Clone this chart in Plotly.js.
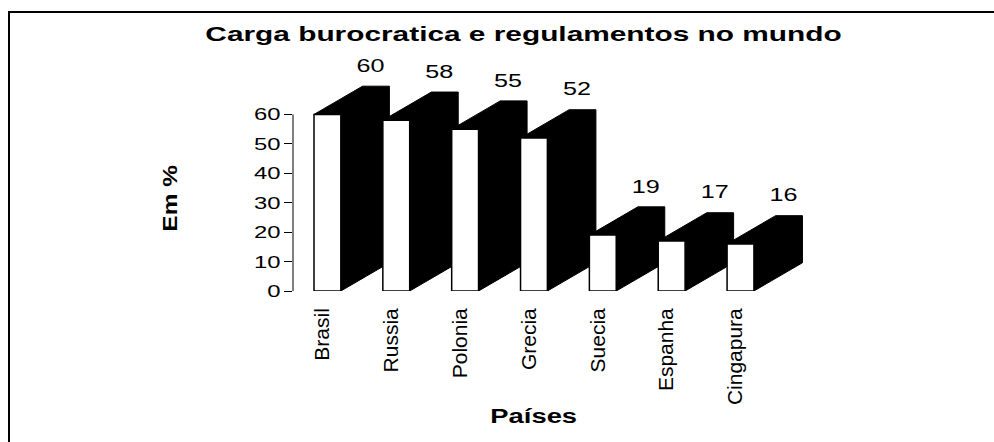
<!DOCTYPE html>
<html>
<head>
<meta charset="utf-8">
<script src="https://cdn.plot.ly/plotly-3.0.1.min.js"></script>
<style>
  html, body { margin: 0; padding: 0; background: #fff; overflow: hidden; }
  #chart { width: 994px; height: 442px; }
  #frame { position: absolute; left: 8px; top: 11px; width: 1200px; height: 800px;
           border: 2px solid #000; pointer-events: none; z-index: 10; }
</style>
</head>
<body>
<div id="frame"></div>
<div id="chart"></div>
<script>
// ---- data ----
const categories = ['Brasil', 'Russia', 'Polonia', 'Grecia', 'Suecia', 'Espanha', 'Cingapura'];
const values = [60, 58, 55, 52, 19, 17, 16];
const yTickValues = [0, 10, 20, 30, 40, 50, 60];
const titleText = 'Carga burocratica e regulamentos no mundo';
const yTitleText = 'Em %';
const xTitleText = 'Países';

// ---- style constants (3D look) ----
const BAR_W = 0.39;     // front face width, category units
const DEPTH_X = 0.705;  // depth offset, category units
const DEPTH_Y = 9.6;    // depth offset, value units
const LABEL_SHIFT = -0.08;
const FONT = '"Liberation Sans", Arial, sans-serif';

const idx = categories.map((c, i) => i);

// black side + top faces (one polygon per bar, separated by gaps)
const blackX = [], blackY = [];
const frontX = [], frontY = [];
idx.forEach(i => {
  const v = values[i];
  const x0 = i - BAR_W / 2, x1 = i + BAR_W / 2;
  blackX.push(x0, x0 + DEPTH_X, x1 + DEPTH_X, x1 + DEPTH_X, x1, x1, x0, null);
  blackY.push(v, v + DEPTH_Y, v + DEPTH_Y, DEPTH_Y, 0, v, v, null);
  frontX.push(x0, x1, x1, x0, x0, null);
  frontY.push(0, 0, v, v, 0, null);
});

const traces = [
  { type: 'scatter', mode: 'lines', x: blackX, y: blackY, fill: 'toself',
    fillcolor: '#000', line: { color: '#000', width: 1 }, hoverinfo: 'skip', showlegend: false },
  { type: 'scatter', mode: 'lines', x: frontX, y: frontY, fill: 'toself',
    fillcolor: '#fff', line: { color: '#000', width: 1.5 }, hoverinfo: 'skip', showlegend: false },
  { type: 'scatter', mode: 'markers+text', x: idx.map(i => i + DEPTH_X + LABEL_SHIFT),
    y: values.map(v => v + DEPTH_Y), text: values.map(String), textposition: 'top center',
    marker: { size: 14, color: 'rgba(0,0,0,0)' }, cliponaxis: false,
    textfont: { family: FONT, size: 18, color: '#000' }, hoverinfo: 'skip', showlegend: false }
];

const layout = {
  width: 994, height: 442,
  margin: { l: 293, r: 164, t: 85, b: 151 },
  paper_bgcolor: '#fff', plot_bgcolor: 'rgba(0,0,0,0)',
  showlegend: false,
  title: { text: '<b>' + titleText + '</b>', xref: 'container', yref: 'container',
           x: 0.5267, xanchor: 'center', y: 0.924, yanchor: 'middle',
           font: { family: FONT, size: 21, color: '#000' } },
  xaxis: { type: 'linear', range: [-0.5, 7.3], tickvals: idx, ticktext: categories,
           tickangle: -90, ticks: '', showline: false, showgrid: false, zeroline: false,
           ticklabelstandoff: 12, ticklabelshift: -5,
           tickfont: { family: FONT, size: 21, color: '#000' }, fixedrange: true },
  yaxis: { range: [0, 70], tickvals: yTickValues, ticks: 'outside', ticklen: 8,
           tickcolor: '#000', tickwidth: 1, showline: false, showgrid: false, zeroline: false,
           tickfont: { family: FONT, size: 17, color: '#000' }, fixedrange: true },
  shapes: [
    { type: 'line', xref: 'paper', yref: 'y', x0: 0, x1: 0,
      y0: yTickValues[0], y1: yTickValues[yTickValues.length - 1],
      line: { color: '#000', width: 1 } }
  ],
  annotations: [
    { text: '<b>' + yTitleText + '</b>', xref: 'paper', yref: 'y', x: -0.229, y: 31.4,
      textangle: -90, showarrow: false, xanchor: 'center', yanchor: 'middle',
      font: { family: FONT, size: 20, color: '#000' }, name: 'ytitle' },
    { text: '<b>' + xTitleText + '</b>', xref: 'x', yref: 'paper', x: 3, y: -0.607,
      showarrow: false, xanchor: 'center', yanchor: 'middle',
      font: { family: FONT, size: 20, color: '#000' }, name: 'xtitle' }
  ]
};

function stretch(el, k) {
  try {
    const w = el.getComputedTextLength();
    if (w > 0) {
      el.setAttribute('textLength', (w * k).toFixed(1));
      el.setAttribute('lengthAdjust', 'spacingAndGlyphs');
    }
  } catch (e) {}
}

Plotly.newPlot('chart', traces, layout, { staticPlot: true, displayModeBar: false }).then(gd => {
  gd.querySelectorAll('.gtitle').forEach(el => stretch(el, 1.42));
  gd.querySelectorAll('.textpoint text').forEach(el => stretch(el, 1.4));
  gd.querySelectorAll('.ytick text').forEach(el => stretch(el, 1.4));
  const ann = gd.querySelectorAll('.annotation-text');
  if (ann[0]) stretch(ann[0], 1.22);
  if (ann[1]) stretch(ann[1], 1.37);
});
</script>
</body>
</html>
